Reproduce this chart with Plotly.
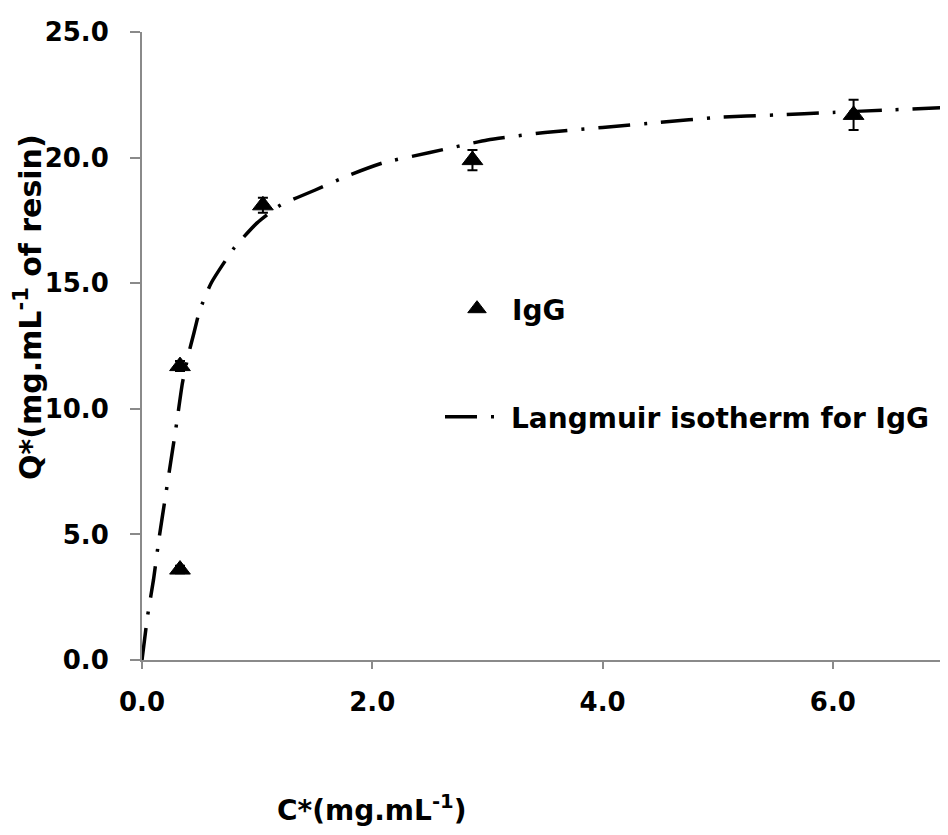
import plotly.graph_objects as go

# Experimental adsorption data (IgG)
C_data = [0.33, 0.33, 1.05, 2.87, 6.18]
Q_data = [3.6, 11.7, 18.1, 19.9, 21.7]
Q_err = [0.15, 0.2, 0.3, 0.4, 0.6]

# Langmuir isotherm curve
C_fit = [0, 0.05, 0.10, 0.15, 0.20, 0.25, 0.30, 0.35, 0.40, 0.45, 0.50, 0.60, 0.80,
         1.00, 1.20, 1.50, 1.80, 2.10, 2.50, 3.00, 3.50, 4.00, 4.50, 5.00, 5.50,
         6.00, 6.50, 7.00]
Q_fit = [0, 1.8, 3.2, 4.9, 6.4, 7.9, 9.4, 11.0, 12.1, 13.0, 13.9, 15.0, 16.4,
         17.4, 18.1, 18.7, 19.3, 19.8, 20.2, 20.7, 21.0, 21.2, 21.4, 21.6, 21.7,
         21.8, 21.9, 22.0]

x_ticks = [0, 2, 4, 6]
x_ticklabels = ["0.0", "2.0", "4.0", "6.0"]
y_ticks = [0, 5, 10, 15, 20, 25]
y_ticklabels = ["0.0", "5.0", "10.0", "15.0", "20.0", "25.0"]

FONT = "DejaVu Sans"
AXIS_COLOR = "#8a8a8a"

# page body has an 8px margin; plot area: page x 142..948, page y 32..660
OFF = 8
PL, PT, PW, PH = 142, 32, 806, 628


def px(xp):
    return (xp - PL) / PW


def py(yp):
    return (PT + PH - yp) / PH


fig = go.Figure()

fig.add_trace(go.Scatter(
    x=C_fit, y=Q_fit, mode="lines", name="Langmuir isotherm for IgG",
    line=dict(color="black", width=3.5, dash="32px,14px,3px,14px", shape="spline", smoothing=0.5),
    legend="legend2",
))

fig.add_trace(go.Scatter(
    x=C_data, y=Q_data, mode="markers", name="IgG",
    marker=dict(symbol="triangle-up", size=18, color="black", line=dict(color="black", width=1)),
    error_y=dict(type="data", array=Q_err, visible=True, color="black", thickness=2, width=5),
    legend="legend",
))

fig.update_layout(
    width=948 - OFF, height=835 - OFF,
    margin=dict(l=PL - OFF, r=0, t=PT - OFF, b=835 - OFF - (PT - OFF) - PH),
    paper_bgcolor="white", plot_bgcolor="white",
    font=dict(family=FONT, size=26, color="black", weight="bold"),
    showlegend=True,
    legend=dict(x=px(442), y=py(284), xanchor="left", yanchor="top",
                bgcolor="rgba(0,0,0,0)", borderwidth=0, itemwidth=60,
                font=dict(family=FONT, size=28, color="black", weight="bold")),
    legend2=dict(x=px(440), y=py(392), xanchor="left", yanchor="top",
                 bgcolor="rgba(0,0,0,0)", borderwidth=0, itemwidth=61,
                 font=dict(family=FONT, size=28, color="black", weight="bold")),
    xaxis=dict(range=[0, 7.0], tickvals=x_ticks, ticktext=x_ticklabels,
               showgrid=False, zeroline=False, showline=True, linecolor=AXIS_COLOR, linewidth=2,
               ticks="outside", ticklen=7, tickwidth=2, tickcolor=AXIS_COLOR,
               ticklabelstandoff=11,
               tickfont=dict(family=FONT, size=26, color="black", weight="bold")),
    yaxis=dict(range=[0, 25], tickvals=y_ticks, ticktext=y_ticklabels,
               showgrid=False, zeroline=False, showline=True, linecolor=AXIS_COLOR, linewidth=2,
               ticks="outside", ticklen=10, tickwidth=2, tickcolor=AXIS_COLOR,
               ticklabelstandoff=16,
               tickfont=dict(family=FONT, size=26, color="black", weight="bold")),
    annotations=[
        dict(text="C*(mg.mL<sup>-1</sup>)", xref="paper", yref="paper",
             x=px(371), y=py(808), xanchor="center", yanchor="middle",
             showarrow=False, font=dict(family=FONT, size=28, color="black", weight="bold")),
        dict(text="Q*(mg.mL<sup>-1</sup> of resin)", xref="paper", yref="paper",
             x=px(28), y=py(307), xanchor="center", yanchor="middle",
             textangle=-90, showarrow=False,
             font=dict(family=FONT, size=30, color="black", weight="bold")),
    ],
)

fig.write_html("out.html")
